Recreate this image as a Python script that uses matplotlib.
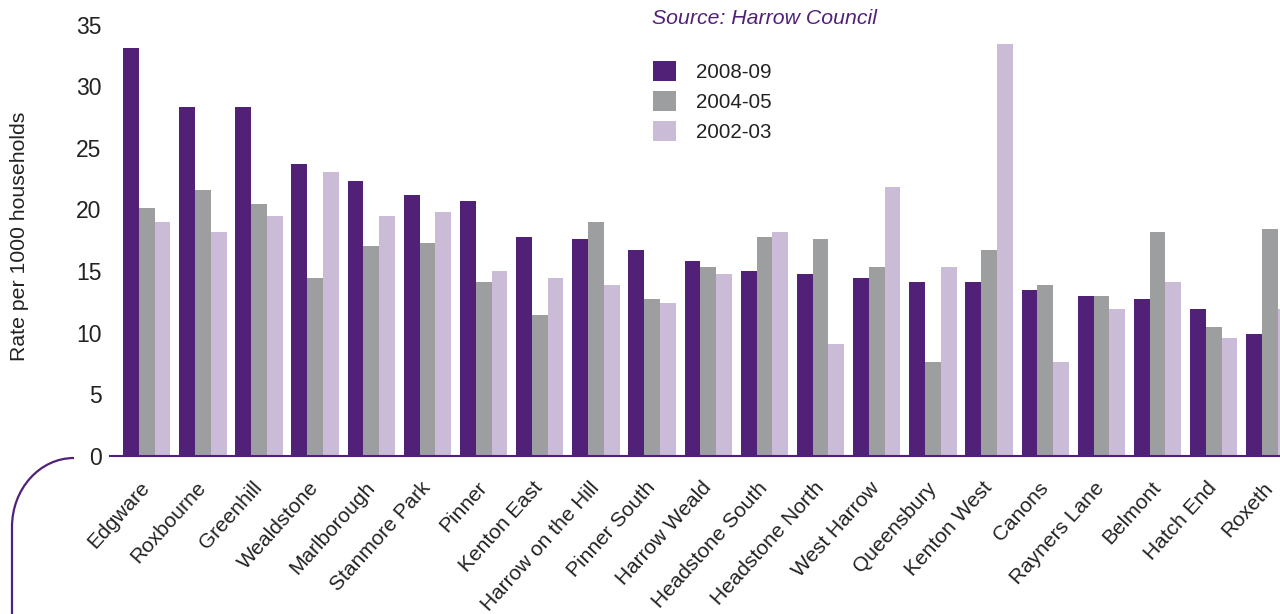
import matplotlib
matplotlib.use("Agg")
import matplotlib.pyplot as plt
import numpy as np
from matplotlib.path import Path
from matplotlib.patches import PathPatch, Patch
from matplotlib.transforms import IdentityTransform, ScaledTranslation

plt.rcParams['font.family'] = ['Liberation Sans', 'DejaVu Sans']

wards = ["Edgware", "Roxbourne", "Greenhill", "Wealdstone", "Marlborough",
         "Stanmore Park", "Pinner", "Kenton East", "Harrow on the Hill",
         "Pinner South", "Harrow Weald", "Headstone South", "Headstone North",
         "West Harrow", "Queensbury", "Kenton West", "Canons", "Rayners Lane",
         "Belmont", "Hatch End", "Roxeth"]
rate_2008_09 = [33.1, 28.3, 28.3, 23.7, 22.3, 21.2, 20.7, 17.8, 17.6, 16.7, 15.8,
                15.0, 14.8, 14.4, 14.1, 14.1, 13.5, 13.0, 12.7, 11.9, 9.9]
rate_2004_05 = [20.1, 21.6, 20.4, 14.4, 17.0, 17.3, 14.1, 11.4, 19.0, 12.7, 15.3,
                17.8, 17.6, 15.3, 7.6, 16.7, 13.9, 13.0, 18.2, 10.5, 18.4]
rate_2002_03 = [19.0, 18.2, 19.5, 23.0, 19.5, 19.8, 15.0, 14.4, 13.9, 12.4, 14.8,
                18.2, 9.1, 21.8, 15.3, 33.4, 7.6, 11.9, 14.1, 9.6, 11.9]
series_labels = ["2008-09", "2004-05", "2002-03"]
y_ticks = [0, 5, 10, 15, 20, 25, 30, 35]

colors = ["#512178", "#9d9ea0", "#cabcd7"]
W, H = 1280, 614
fig = plt.figure(figsize=(W / 100, H / 100), dpi=100)
ax = fig.add_axes([110 / W, 1 - 456 / H, 1 - 110 / W, (456 - 24.5) / H])

x = np.arange(len(wards))
bw = 0.281
for k, (vals, c) in enumerate(zip([rate_2008_09, rate_2004_05, rate_2002_03], colors)):
    ax.bar(x + (k - 1) * bw, vals, width=bw, color=c, linewidth=0, zorder=2)

ax.set_xlim(-0.653, 20.18)
ax.set_ylim(0, 35)
ax.set_yticks(y_ticks)
ax.set_yticklabels([str(t) for t in y_ticks], fontsize=16.5, color="#222222")
ax.tick_params(axis='y', length=0, pad=6)
ax.set_xticks(x)
ax.set_xticklabels(wards, rotation=48, ha='right', va='top', rotation_mode='anchor',
                   fontsize=15, color="#222222")
ax.tick_params(axis='x', length=0, pad=16)
shift = ScaledTranslation(-7 / 100, 0, fig.dpi_scale_trans)
for lbl in ax.get_xticklabels():
    lbl.set_transform(lbl.get_transform() + shift)
for s in ['top', 'right', 'left']:
    ax.spines[s].set_visible(False)
ax.spines['bottom'].set_color("#512178")
ax.spines['bottom'].set_linewidth(1.5)
ax.spines['bottom'].set_zorder(3)

fig.text(20 / W, 1 - 236 / H, "Rate per 1000 households", rotation=90,
         ha='center', va='center', fontsize=15.3, color="#222222")

fig.text(652 / W, 1 - 18 / H, "Source: Harrow Council", ha='left', va='center',
         fontsize=15.3, style='italic', color="#512178")

handles = [Patch(facecolor=c, edgecolor='none') for c in colors]
fs = 14.8
px = fs * 100 / 72
fig.legend(handles, series_labels, loc='upper left',
           bbox_to_anchor=(653 / W, 1 - 61 / H), frameon=False, fontsize=fs,
           handlelength=23 / px, handleheight=23 / px, handletextpad=20 / px,
           labelspacing=9 / px, borderpad=0, borderaxespad=0,
           labelcolor="#222222")

# decorative corner curve (figure pixel coords, y from top)
kap = 0.5523
cx, cy, rx, ry = 74, 527, 62, 69
verts = [(74, 458), (cx - kap * rx, 458), (12, cy - kap * ry), (12, cy), (12, 620)]
verts = [(vx, H - vy) for vx, vy in verts]
codes = [Path.MOVETO, Path.CURVE4, Path.CURVE4, Path.CURVE4, Path.LINETO]
patch = PathPatch(Path(verts, codes), facecolor='none', edgecolor="#512178",
                  linewidth=1.6)
patch.set_transform(IdentityTransform())
fig.add_artist(patch)

fig.savefig("out.png", dpi=100)
